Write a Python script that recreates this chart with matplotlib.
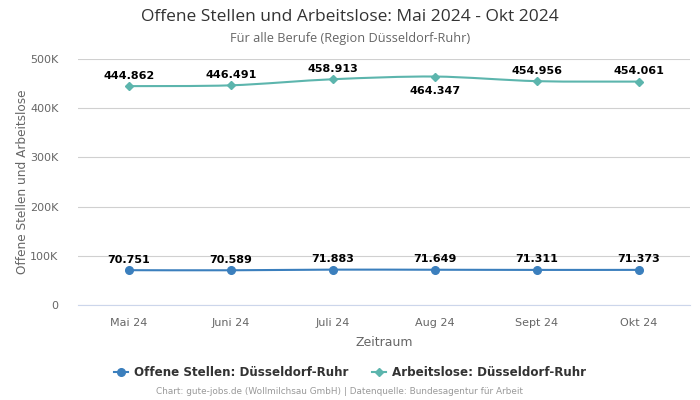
import numpy as np
import matplotlib.pyplot as plt
from matplotlib.path import Path
from matplotlib.patches import PathPatch
from matplotlib.lines import Line2D
from matplotlib.ticker import FuncFormatter

months = ['Mai 24', 'Juni 24', 'Juli 24', 'Aug 24', 'Sept 24', 'Okt 24']
offene = [70751, 70589, 71883, 71649, 71311, 71373]
arbeitslose = [444862, 446491, 458913, 464347, 454956, 454061]

blue = '#3b7fbd'
teal = '#5cb5ad'

plt.rcParams['font.family'] = ['DejaVu Sans']

fig = plt.figure(figsize=(7, 4), dpi=100)
ax = fig.add_axes([78/700, 95/400, 612/700, 246/400])


def smooth_path(xs, ys, t=0.3):
    # catmull-rom style bezier through the points
    verts = [(xs[0], ys[0])]
    codes = [Path.MOVETO]
    n = len(xs)
    for i in range(n - 1):
        x0, y0 = xs[max(i - 1, 0)], ys[max(i - 1, 0)]
        x1, y1 = xs[i], ys[i]
        x2, y2 = xs[i + 1], ys[i + 1]
        x3, y3 = xs[min(i + 2, n - 1)], ys[min(i + 2, n - 1)]
        c1 = (x1 + (x2 - x0) * t / 2, y1 + (y2 - y0) * t / 2)
        c2 = (x2 - (x3 - x1) * t / 2, y2 - (y3 - y1) * t / 2)
        verts += [c1, c2, (x2, y2)]
        codes += [Path.CURVE4] * 3
    return Path(verts, codes)


x = np.arange(len(months))
for vals, col, mk, ms in [(offene, blue, 'o', 5.5), (arbeitslose, teal, 'D', 4)]:
    ax.add_patch(PathPatch(smooth_path(x, vals), fill=False, edgecolor=col, lw=1.5, zorder=3))
    ax.plot(x, vals, ls='none', marker=mk, color=col, ms=ms, zorder=4)

for i, v in enumerate(offene):
    ax.annotate(f'{v:,}'.replace(',', '.'), (i, v), xytext=(0, 4), textcoords='offset points',
                ha='center', va='bottom', fontsize=8, fontweight='bold', color='black')
for i, v in enumerate(arbeitslose):
    below = i == 3
    ax.annotate(f'{v:,}'.replace(',', '.'), (i, v), xytext=(0, -7 if below else 4),
                textcoords='offset points', ha='center', va='top' if below else 'bottom',
                fontsize=8, fontweight='bold', color='black')

ax.set_xlim(-0.5, 5.5)
ax.set_ylim(0, 500000)
ax.set_yticks(np.arange(0, 500001, 100000))
ax.yaxis.set_major_formatter(FuncFormatter(lambda v, p: '0' if v == 0 else f'{int(v/1000)}K'))
ax.set_xticks(x)
ax.set_xticklabels(months)
ax.tick_params(axis='both', length=0, labelsize=8, colors='#666666')
ax.tick_params(axis='x', pad=9)
ax.tick_params(axis='y', pad=14)
ax.grid(axis='y', color='#d0d0d0', lw=0.8)
ax.set_axisbelow(True)
for s in ['top', 'right', 'left']:
    ax.spines[s].set_visible(False)
ax.spines['bottom'].set_color('#ccd6eb')

ax.set_xlabel('Zeitraum', fontsize=9, color='#666666', labelpad=6)
ax.set_ylabel('Offene Stellen und Arbeitslose', fontsize=8.7, color='#666666', labelpad=1)

fig.text(0.5, 0.958, 'Offene Stellen und Arbeitslose: Mai 2024 - Okt 2024', ha='center', va='center',
         fontsize=12.5, color='#333333', family='Open Sans')
fig.text(0.5, 0.903, 'Für alle Berufe (Region Düsseldorf-Ruhr)', ha='center', va='center',
         fontsize=9.2, color='#666666', family='Open Sans')

handles = [Line2D([], [], color=blue, marker='o', ms=5.5, lw=1.5),
           Line2D([], [], color=teal, marker='D', ms=4, lw=1.5)]
fig.legend(handles, ['Offene Stellen: Düsseldorf-Ruhr', 'Arbeitslose: Düsseldorf-Ruhr'],
           loc='center', bbox_to_anchor=(0.5, 0.068), ncol=2, frameon=False,
           prop={'size': 8.6, 'weight': 'bold'}, labelcolor='#333333', handlelength=1.2,
           columnspacing=2.0, handletextpad=0.5)
fig.text(0.485, 0.02, 'Chart: gute-jobs.de (Wollmilchsau GmbH) | Datenquelle: Bundesagentur für Arbeit',
         ha='center', va='center', fontsize=6.4, color='#999999')

fig.savefig('out.png', dpi=100)
